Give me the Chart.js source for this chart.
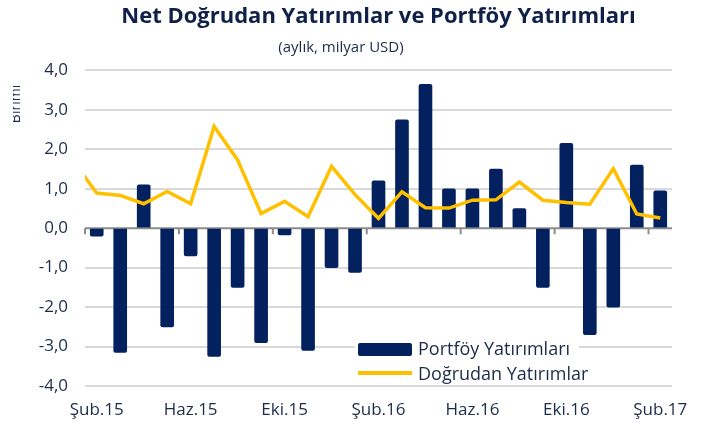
<!DOCTYPE html>
<html>
<head>
<meta charset="utf-8">
<script src="https://cdn.jsdelivr.net/npm/chart.js@4.4.1/dist/chart.umd.min.js"></script>
<style>
    html, body { margin: 0; padding: 0; background: #ffffff; }
    #wrap { width: 704px; height: 424px; }
</style>
</head>
<body>
<div id="wrap"><canvas id="chart" width="704" height="424"></canvas></div>
<script>
// Aylık veriler, milyar USD (Şub.15 - Şub.17)
const months = ['Şub.15', 'Mar.15', 'Nis.15', 'May.15', 'Haz.15', 'Tem.15', 'Ağu.15', 'Eyl.15',
    'Eki.15', 'Kas.15', 'Ara.15', 'Oca.16', 'Şub.16', 'Mar.16', 'Nis.16', 'May.16', 'Haz.16',
    'Tem.16', 'Ağu.16', 'Eyl.16', 'Eki.16', 'Kas.16', 'Ara.16', 'Oca.17', 'Şub.17'];

const portfoy = [-0.2, -3.15, 1.1, -2.5, -0.7, -3.25, -1.5, -2.9, -0.17, -3.1, -1.0, -1.12,
    1.2, 2.75, 3.65, 1.0, 1.0, 1.5, 0.5, -1.5, 2.15, -2.7, -2.0, 1.6, 0.95];

// Oca.15 value only shows as the clipped start of the line
const dogrudanOca15 = 1.7;
const dogrudan = [0.89, 0.83, 0.62, 0.93, 0.62, 2.58, 1.73, 0.37, 0.68, 0.29, 1.57, 0.85,
    0.25, 0.92, 0.52, 0.51, 0.71, 0.72, 1.17, 0.71, 0.65, 0.61, 1.51, 0.36, 0.26];

const yTicks = [-4, -3, -2, -1, 0, 1, 2, 3, 4];

const NAVY = '#03215f';
const GOLD = '#ffc000';
const TEXT = '#1c2b4a';
const FONT = "'Open Sans', 'DejaVu Sans', sans-serif";

const linePoints = [{ x: -1, y: dogrudanOca15 }].concat(
    dogrudan.map(function(v, i) { return { x: i, y: v }; })
);

// zero line with small tick marks every 4 months
const zeroLine = {
    id: 'zeroLine',
    beforeDatasetsDraw(chart) {
        const x = chart.scales.x;
        const y = chart.scales.y;
        const ctx = chart.ctx;
        const y0 = y.getPixelForValue(0);
        const step = x.getPixelForValue(1) - x.getPixelForValue(0);
        ctx.save();
        ctx.strokeStyle = '#8c8c8c';
        ctx.lineWidth = 2;
        ctx.beginPath();
        ctx.moveTo(chart.chartArea.left, y0);
        ctx.lineTo(chart.chartArea.right, y0);
        for (let i = 0; i < months.length; i += 4) {
            const bx = x.getPixelForValue(i) - step / 2;
            ctx.moveTo(bx, y0);
            ctx.lineTo(bx, y0 + 6);
        }
        ctx.stroke();
        ctx.restore();
    }
};

// legend drawn inside the plot, bottom right
const insideLegend = {
    id: 'insideLegend',
    afterDraw(chart) {
        const ctx = chart.ctx;
        const ca = chart.chartArea;
        const lx = ca.left + 273;
        const ly = ca.bottom - 45;
        ctx.save();
        ctx.fillStyle = '#ffffff';
        ctx.fillRect(lx - 3, ly - 4, 224, 44);

        ctx.fillStyle = NAVY;
        ctx.beginPath();
        ctx.roundRect(lx, ly + 2, 54, 13, 2);
        ctx.fill();

        ctx.strokeStyle = GOLD;
        ctx.lineWidth = 4;
        ctx.beginPath();
        ctx.moveTo(lx, ly + 32);
        ctx.lineTo(lx + 54, ly + 32);
        ctx.stroke();

        ctx.fillStyle = TEXT;
        ctx.font = '18px ' + FONT;
        ctx.textBaseline = 'middle';
        ctx.textAlign = 'left';
        ctx.fillText(chart.data.datasets[0].label, lx + 60, ly + 9);
        ctx.fillText(chart.data.datasets[1].label, lx + 60, ly + 34);

        // cut-off unit label at the far left
        ctx.beginPath();
        ctx.rect(13, 60, 20, 80);
        ctx.clip();
        ctx.translate(20, 104);
        ctx.rotate(-Math.PI / 2);
        ctx.font = '14px ' + FONT;
        ctx.textAlign = 'center';
        ctx.textBaseline = 'alphabetic';
        ctx.fillText('Birimi', 0, 0);
        ctx.restore();
    }
};

const ctx = document.getElementById('chart').getContext('2d');

new Chart(ctx, {
    data: {
        labels: months,
        datasets: [{
            type: 'bar',
            label: 'Portföy Yatırımları',
            data: portfoy,
            backgroundColor: NAVY,
            borderRadius: 2,
            barThickness: 13,
            grouped: false,
            order: 2
        }, {
            type: 'line',
            label: 'Doğrudan Yatırımlar',
            data: linePoints,
            xAxisID: 'xl',
            borderColor: GOLD,
            borderWidth: 3.5,
            pointRadius: 0,
            tension: 0,
            clip: 0,
            order: 1
        }]
    },
    options: {
        responsive: false,
        animation: false,
        layout: {
            padding: { left: 10, right: 32, top: 0, bottom: 0 }
        },
        plugins: {
            legend: { display: false },
            tooltip: { enabled: false },
            title: {
                display: true,
                text: 'Net Doğrudan Yatırımlar ve Portföy Yatırımları',
                color: '#0f2148',
                fullSize: false,
                font: { family: FONT, size: 22, weight: 'bold' },
                padding: { top: 4, bottom: 2 }
            },
            subtitle: {
                display: true,
                text: '(aylık, milyar USD)',
                color: TEXT,
                font: { family: FONT, size: 15 },
                padding: { top: 6, bottom: 14 }
            }
        },
        scales: {
            x: {
                type: 'category',
                offset: true,
                grid: { display: false, drawTicks: false },
                border: { display: false },
                ticks: {
                    autoSkip: false,
                    maxRotation: 0,
                    padding: 14,
                    color: TEXT,
                    font: { family: FONT, size: 17 },
                    callback: function(value, index) {
                        return index % 4 === 0 ? months[index] : '';
                    }
                },
                afterFit: function(scale) { scale.height = 38; }
            },
            xl: {
                type: 'linear',
                display: false,
                min: -0.5,
                max: months.length - 0.5
            },
            y: {
                min: -4,
                max: 4,
                afterBuildTicks: function(scale) {
                    scale.ticks = yTicks.map(function(v) { return { value: v }; });
                },
                grid: {
                    color: function(c) { return c.tick && c.tick.value === 0 ? 'rgba(0,0,0,0)' : '#d9d9d9'; },
                    lineWidth: 2,
                    drawTicks: false
                },
                border: { display: false },
                ticks: {
                    padding: 17,
                    color: TEXT,
                    font: { family: FONT, size: 17 },
                    callback: function(v) { return v.toFixed(1).replace('.', ','); }
                },
                afterFit: function(scale) { scale.width = 75; }
            }
        }
    },
    plugins: [zeroLine, insideLegend]
});
</script>
</body>
</html>
